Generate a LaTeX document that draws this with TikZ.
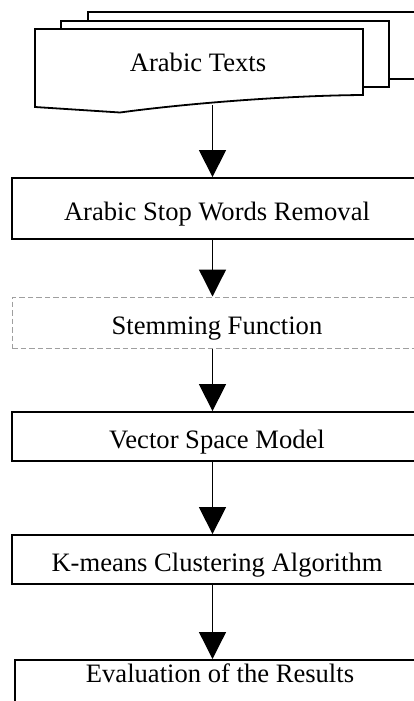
\documentclass[tikz,border=0pt]{standalone}
\usepackage{fontspec}
\setmainfont{Liberation Serif}
\usepackage{tikz}
\usetikzlibrary{calc}
\usetikzlibrary{arrows.meta}
\usepackage{xcolor}

\tikzset{
	stepbox/.style={draw, line width=1.8pt, minimum width=410pt, inner sep=0pt, text height=30pt, text depth=6.8pt, font=\fontsize{26.6}{30}\selectfont},
	stembox/.style={stepbox, draw=gray!75, line width=1pt, dash pattern=on 5.5pt off 3pt},
	sheet/.style={draw, line width=1.8pt, fill=white},
	flow/.style={line width=1.3pt, -{Triangle[length=27pt,width=27pt]}}
}

\begin{document}
\begin{tikzpicture}[x=1pt,y=-1pt]
		\useasboundingbox (0,0) rectangle (414,701);
		\clip (0,0) rectangle (414,701);
		% stack of documents
		\draw[sheet] (88,12) rectangle (440,79);
		\draw[sheet] (61,21) rectangle (389,87);
		\draw[sheet] (35,29) -- (363,29) -- (363,95) .. controls (290,95.5) and (190,103) .. (120,112.5) -- (35,107) -- cycle;
		\node[font=\fontsize{26.6}{30}\selectfont] (texts) at (198,62) {Arabic Texts};
		\coordinate (docs) at (212.5,105);
		% steps
		\node[stepbox, minimum height=61pt] (stop) at (217,208.5) {Arabic Stop Words Removal};
		\node[stembox, minimum height=51pt] (stem) at (217,322.5) {Stemming Function};
		\node[stepbox, minimum height=49pt] (vsm) at (217,436.5) {Vector Space Model};
		\node[stepbox, minimum height=49pt] (kmeans) at (217,559.5) {K-means Clustering Algorithm};
		\node[stepbox, minimum height=90pt, anchor=north, text height=23pt, text depth=67pt] (eval) at (220,659) {Evaluation of the Results};
		% arrows
		\draw[flow] (docs) -- (docs |- stop.north);
		\draw[flow] (stop.south -| docs) -- (docs |- stem.north);
		\draw[flow] (stem.south -| docs) -- (docs |- vsm.north);
		\draw[flow] (vsm.south -| docs) -- (docs |- kmeans.north);
		\draw[flow] (kmeans.south -| docs) -- (docs |- eval.north);
	\end{tikzpicture}
\end{document}
